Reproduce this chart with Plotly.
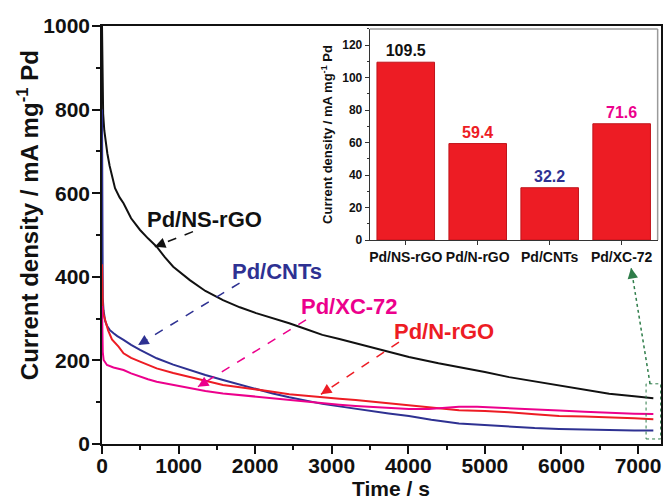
import plotly.graph_objects as go

# ---------------- data ----------------
t_ns = [0, 3, 8, 15, 30, 50, 70, 100, 130, 170, 230, 281, 380, 497, 600, 714, 820, 930, 1147, 1350,
        1580, 1800, 2013, 2230, 2445, 2660, 2878, 3100, 3312, 3530, 3744, 4008, 4394, 4662, 5000,
        5316, 5650, 5969, 6300, 6623, 6950, 7200]
j_ns = [1000, 900, 830, 790, 750, 720, 695, 665, 640, 612, 590, 576, 540, 512, 492, 472, 447, 424, 392, 366,
        344, 327, 313, 301, 289, 275, 261, 251, 241, 231, 221, 208, 193, 184, 172,
        160, 150, 140, 130, 120, 114, 109.5]

t_cnt = [0, 2, 5, 10, 20, 40, 65, 100, 151, 200, 281, 380, 497, 600, 714, 930, 1147, 1350, 1580, 1800,
         2013, 2230, 2445, 2660, 2878, 3100, 3312, 3530, 3744, 4008, 4300, 4662, 5000, 5316, 5650,
         5969, 6300, 6623, 6950, 7200]
j_cnt = [800, 600, 420, 350, 320, 295, 283, 273, 265, 258, 249, 237, 225, 215, 205, 190, 177, 165, 153, 142,
         131, 121, 112, 104, 96, 90, 84, 78, 73, 67, 58, 49, 45, 41, 38,
         36, 34.5, 33, 32.5, 32.2]

t_n = [0, 2, 5, 10, 20, 43, 80, 130, 216, 281, 380, 497, 600, 714, 930, 1147, 1350, 1580, 1800, 2013,
       2230, 2445, 2660, 2878, 3100, 3312, 3530, 3744, 4008, 4300, 4662, 5000, 5316, 5650, 5969,
       6300, 6623, 6950, 7200]
j_n = [430, 400, 360, 330, 310, 297, 272, 250, 233, 217, 206, 197, 189, 181, 170, 160, 150, 141, 136, 131,
       125, 119, 115, 112, 108, 105, 101, 98, 92, 86, 81, 79, 76, 71, 67,
       65.5, 64, 61.5, 59.4]

t_xc = [0, 2, 5, 10, 21, 65, 150, 281, 380, 497, 600, 714, 930, 1147, 1350, 1580, 1800, 2013, 2230,
        2445, 2660, 2878, 3100, 3312, 3530, 3744, 4008, 4270, 4450, 4662, 4900, 5316, 5650, 5969,
        6300, 6623, 6950, 7200]
j_xc = [330, 300, 260, 220, 201, 189, 183, 177, 169, 161, 155, 149, 141, 133, 127, 121, 117, 113, 109,
        105, 101, 97, 94, 91, 89, 87, 84, 84, 87, 89, 89, 86, 83, 80,
        77, 74, 72.5, 71.6]

catalysts = ["Pd/NS-rGO", "Pd/N-rGO", "Pd/CNTs", "Pd/XC-72"]
final_j = [109.5, 59.4, 32.2, 71.6]

x_ticks = [0, 1000, 2000, 3000, 4000, 5000, 6000, 7000]
y_ticks = [0, 200, 400, 600, 800, 1000]
inset_ticks = [0, 20, 40, 60, 80, 100, 120]

# ---------------- style ----------------
BLACK = "#111111"
BLUE = "#2e3192"
RED = "#ed1c24"
MAG = "#ec008c"
GREEN = "#2f7d4a"
FONT = "Liberation Sans, Arial, sans-serif"

W, H = 668, 504
ML, MR, MT, MB = 102, 5, 26, 60
XR = [0, 7300]
YR = [0, 1000]
pw, ph = W - ML - MR, H - MT - MB
sx = pw / (XR[1] - XR[0])
sy = ph / (YR[1] - YR[0])

fig = go.Figure()

for t, j, c in [(t_ns, j_ns, BLACK), (t_cnt, j_cnt, BLUE), (t_n, j_n, RED), (t_xc, j_xc, MAG)]:
    fig.add_trace(go.Scatter(x=t, y=j, mode="lines", line=dict(color=c, width=2),
                             showlegend=False, hoverinfo="skip"))

label_colors = [BLACK, RED, BLUE, MAG]
fig.add_trace(go.Bar(x=catalysts, y=final_j, xaxis="x2", yaxis="y2", width=0.8,
                     marker=dict(color=RED, line=dict(color="#c0141b", width=1)),
                     text=[f"{v:.1f}" for v in final_j], textposition="outside",
                     textfont=dict(family=FONT, size=16, color=label_colors, weight="bold"),
                     cliponaxis=False, showlegend=False, hoverinfo="skip"))

tickfont = dict(family=FONT, size=21, color=BLACK, weight="bold")
fig.update_layout(
    width=W, height=H, margin=dict(l=ML, r=MR, t=MT, b=MB),
    plot_bgcolor="white", paper_bgcolor="white",
    xaxis=dict(range=XR, tickvals=x_ticks, ticks="outside", ticklen=8, tickwidth=1.5,
               tickcolor=BLACK, showline=True, linecolor=BLACK, linewidth=1.5, mirror=True,
               showgrid=False, zeroline=False, tickfont=tickfont, ticklabelstandoff=-6,
               minor=dict(dtick=500, ticks="outside", ticklen=4, tickwidth=1.5, tickcolor=BLACK)),
    yaxis=dict(range=YR, tickvals=y_ticks, ticks="outside", ticklen=8, tickwidth=1.5,
               tickcolor=BLACK, showline=True, linecolor=BLACK, linewidth=1.5, mirror=True,
               showgrid=False, zeroline=False, tickfont=tickfont, ticklabelstandoff=-2,
               minor=dict(dtick=100, ticks="outside", ticklen=4, tickwidth=1.5, tickcolor=BLACK)),
    xaxis2=dict(domain=[0.479, 0.994], anchor="y2", range=[-0.5, 3.5], ticks="outside",
                ticklen=4, tickcolor="#333", showline=True, linecolor="#333", linewidth=1.2,
                showgrid=False, zeroline=False,
                tickfont=dict(family=FONT, size=14, color=BLACK, weight="bold")),
    yaxis2=dict(domain=[0.488, 0.993], anchor="x2", range=[0, 130], tickvals=inset_ticks,
                ticks="outside", ticklen=4, tickcolor="#333", showline=True, linecolor="#333",
                linewidth=1.2, showgrid=False, zeroline=False,
                tickfont=dict(family=FONT, size=12, color=BLACK, weight="bold"),
                minor=dict(dtick=10, ticks="outside", ticklen=2, tickcolor="#333"),
                title=dict(text="Current density / mA mg<sup>-1</sup> Pd", standoff=6,
                           font=dict(family=FONT, size=13, color=BLACK, weight="bold"))),
)

# inset frame (top/right, grey)
fig.add_shape(type="line", xref="x2 domain", yref="y2 domain", x0=0, x1=1, y0=1, y1=1,
              line=dict(color="#9a9a9a", width=1.5))
fig.add_shape(type="line", xref="x2 domain", yref="y2 domain", x0=1, x1=1, y0=0, y1=1,
              line=dict(color="#9a9a9a", width=1.5))

# axis titles
fig.add_annotation(text="Current density / mA mg<sup>-1</sup> Pd", xref="paper", yref="paper",
                   x=(28 - ML) / pw, y=0.548, textangle=-90, showarrow=False,
                   xanchor="center", yanchor="middle",
                   font=dict(family=FONT, size=24, color=BLACK, weight="bold"))
fig.add_annotation(text="Time / s", xref="paper", yref="paper", x=0.517, y=-0.106,
                   showarrow=False, xanchor="center", yanchor="middle",
                   font=dict(family=FONT, size=21, color=BLACK, weight="bold"))

# curve labels with dashed arrows
labels = [
    ("Pd/NS-rGO", BLACK, (1340, 536), (1188, 508), (690, 472)),
    ("Pd/CNTs", BLUE, (2290, 412), (1796, 385), (472, 237)),
    ("Pd/XC-72", MAG, (3227, 328), (2664, 297), (1253, 137)),
    ("Pd/N-rGO", RED, (4471, 269), (3878, 244), (2859, 119)),
]


def arrow(start, head, color, dash, width=1.5):
    fig.add_shape(type="line", xref="x", yref="y", x0=start[0], y0=start[1],
                  x1=head[0], y1=head[1], line=dict(color=color, width=width, dash=dash))
    dxp = (head[0] - start[0]) * sx
    dyp = -(head[1] - start[1]) * sy
    L = (dxp ** 2 + dyp ** 2) ** 0.5
    ux, uy = dxp / L, dyp / L
    fig.add_annotation(x=head[0], y=head[1], xref="x", yref="y", text="", showarrow=True,
                       ax=-ux * 9, ay=-uy * 9, arrowhead=2, arrowsize=1.4,
                       arrowwidth=width, arrowcolor=color, standoff=0)


for text, col, pos, start, head in labels:
    fig.add_annotation(text=text, x=pos[0], y=pos[1], xref="x", yref="y", showarrow=False,
                       font=dict(family=FONT, size=22, color=col, weight="bold"))
    arrow(start, head, col, "dash")

# green dotted box and arrow to inset
fig.add_shape(type="rect", xref="x", yref="y", x0=7105, x1=7295, y0=12, y1=144,
              line=dict(color=GREEN, width=1, dash="dot"))
arrow((7157, 144), (6910, 421), GREEN, "dot", width=1.5)

fig.write_html("out.html")
